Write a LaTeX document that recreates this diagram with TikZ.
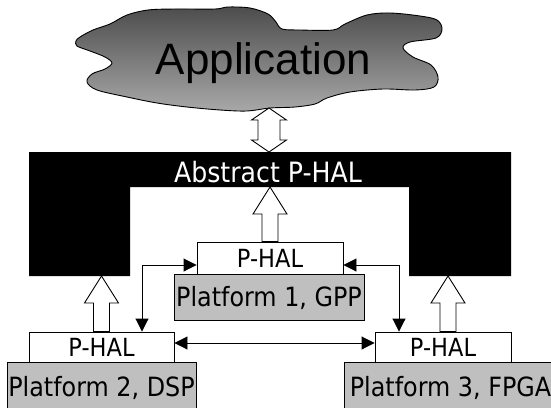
\documentclass[tikz,border=0pt]{standalone}
\usepackage{fontspec}
\setmainfont{DejaVu Sans}[FakeStretch=0.9]
\newfontfamily\appfont{Liberation Sans}
\usetikzlibrary{arrows.meta,calc}

\definecolor{platgray}{gray}{0.75}
\definecolor{cloudtop}{gray}{0.30}
\definecolor{cloudbot}{gray}{0.66}

\tikzset{
  halbox/.style={draw=black, fill=white, line width=0.9pt, inner sep=0pt,
    font=\fontsize{25}{25}\selectfont, text height=18.2pt, text depth=0pt},
  platbox/.style={draw=black, fill=platgray, line width=0.9pt, inner sep=0pt,
    font=\fontsize{26.5}{26.5}\selectfont, text height=19.3pt, text depth=0pt},
  blockarrow/.style={draw=black, fill=white, line width=0.9pt, line join=miter},
  link/.style={line width=0.9pt,
    {Triangle[length=13pt,width=13pt]}-{Triangle[length=13pt,width=13pt]}},
}

% hollow block arrow pointing up from #1 to #2 (same x)
\newcommand\hollowup[2]{%
  \draw[blockarrow] let \p1=(#1), \p2=(#2) in
    (\x1-8pt,\y1) -- (\x1-8pt,\y2-27pt) -- (\x1-17pt,\y2-27pt) -- (\x2,\y2)
    -- (\x1+17pt,\y2-27pt) -- (\x1+8pt,\y2-27pt) -- (\x1+8pt,\y1) -- cycle;}

% hollow double-headed block arrow between #1 (top) and #2 (bottom)
\newcommand\hollowboth[2]{%
  \draw[blockarrow] let \p1=(#1), \p2=(#2) in
    (\x1,\y1) -- (\x1+17.5pt,\y1-12pt) -- (\x1+11pt,\y1-12pt) -- (\x1+11pt,\y2+12pt)
    -- (\x1+17.5pt,\y2+12pt) -- (\x2,\y2) -- (\x1-17.5pt,\y2+12pt) -- (\x1-11pt,\y2+12pt)
    -- (\x1-11pt,\y1-12pt) -- (\x1-17.5pt,\y1-12pt) -- cycle;}

\begin{document}
\begin{tikzpicture}[x=1pt, y=-1pt]
\useasboundingbox (0,0) rectangle (551,407);

% application cloud
\path[draw=black, line width=0.9pt, top color=cloudtop, bottom color=cloudbot]
  plot[smooth cycle, tension=0.55] coordinates {
    (80,37) (93,30) (110,24) (127,15) (148,10) (175,9) (215,9) (228,7) (250,8)
    (268,14) (276,22) (282,29) (300,30) (333,30) (345,24) (367,15) (390,13)
    (420,16) (437,20) (442,29) (436,38) (410,42) (403,48) (413,57) (431,65)
    (438,77) (434,87) (415,90) (383,89) (350,92) (327,98) (315,104) (295,107)
    (270,108) (247,111) (220,110) (187,107) (157,103) (127,97) (97,90) (87,82)
    (92,74) (105,69) (112,63) (105,57) (90,51) (77,46) (76,41)};
\node[anchor=base, inner sep=0pt, font=\appfont\fontsize{44}{44}\selectfont] (app)
  at (263.5,74) {Application};
\coordinate (appbot) at (269,108);

% abstract P-HAL frame
\fill[black] (29,152) -- (511,152) -- (511,276) -- (409,276) -- (409,187)
  -- (130,187) -- (130,276) -- (29,276) -- cycle;
\node[anchor=base, inner sep=0pt, text=white, font=\fontsize{28}{28}\selectfont] (abs)
  at (268,182) {Abstract P-HAL};
\coordinate (frametop) at (269,152);
\coordinate (notch) at (270,187);
\coordinate (legL) at (101.5,276);
\coordinate (legR) at (448,276);

\hollowboth{appbot}{frametop}

% platform layers
\node[halbox, minimum width=146pt, minimum height=32pt] (phal1) at (270,258) {P-HAL};
\node[platbox, minimum width=190pt, minimum height=46pt] (plat1) at (269,297) {Platform 1, GPP};
\node[halbox, minimum width=145pt, minimum height=30pt] (phal2) at (101.5,347) {P-HAL};
\node[platbox, minimum width=189pt, minimum height=50pt] (plat2) at (101.5,387) {Platform 2, DSP};
\node[halbox, minimum width=136pt, minimum height=30pt] (phal3) at (443,347) {P-HAL};
\node[platbox, minimum width=213pt, minimum height=50pt] (plat3) at (450.5,387) {Platform 3, FPGA};

% P-HALs up to the abstract layer
\hollowup{phal1.north}{notch}
\hollowup{phal2.north}{legL}
\hollowup{legR |- phal3.north}{legR}

% P-HAL to P-HAL links
\draw[link] ([yshift=-7pt]phal1.west) -| ([xshift=40.5pt]phal2.north);
\draw[link] ([yshift=-7pt]phal1.east) -| ([xshift=-44pt]phal3.north);
\draw[link] ([yshift=4pt]phal2.east) -- ([yshift=4pt]phal3.west);
\end{tikzpicture}
\end{document}
